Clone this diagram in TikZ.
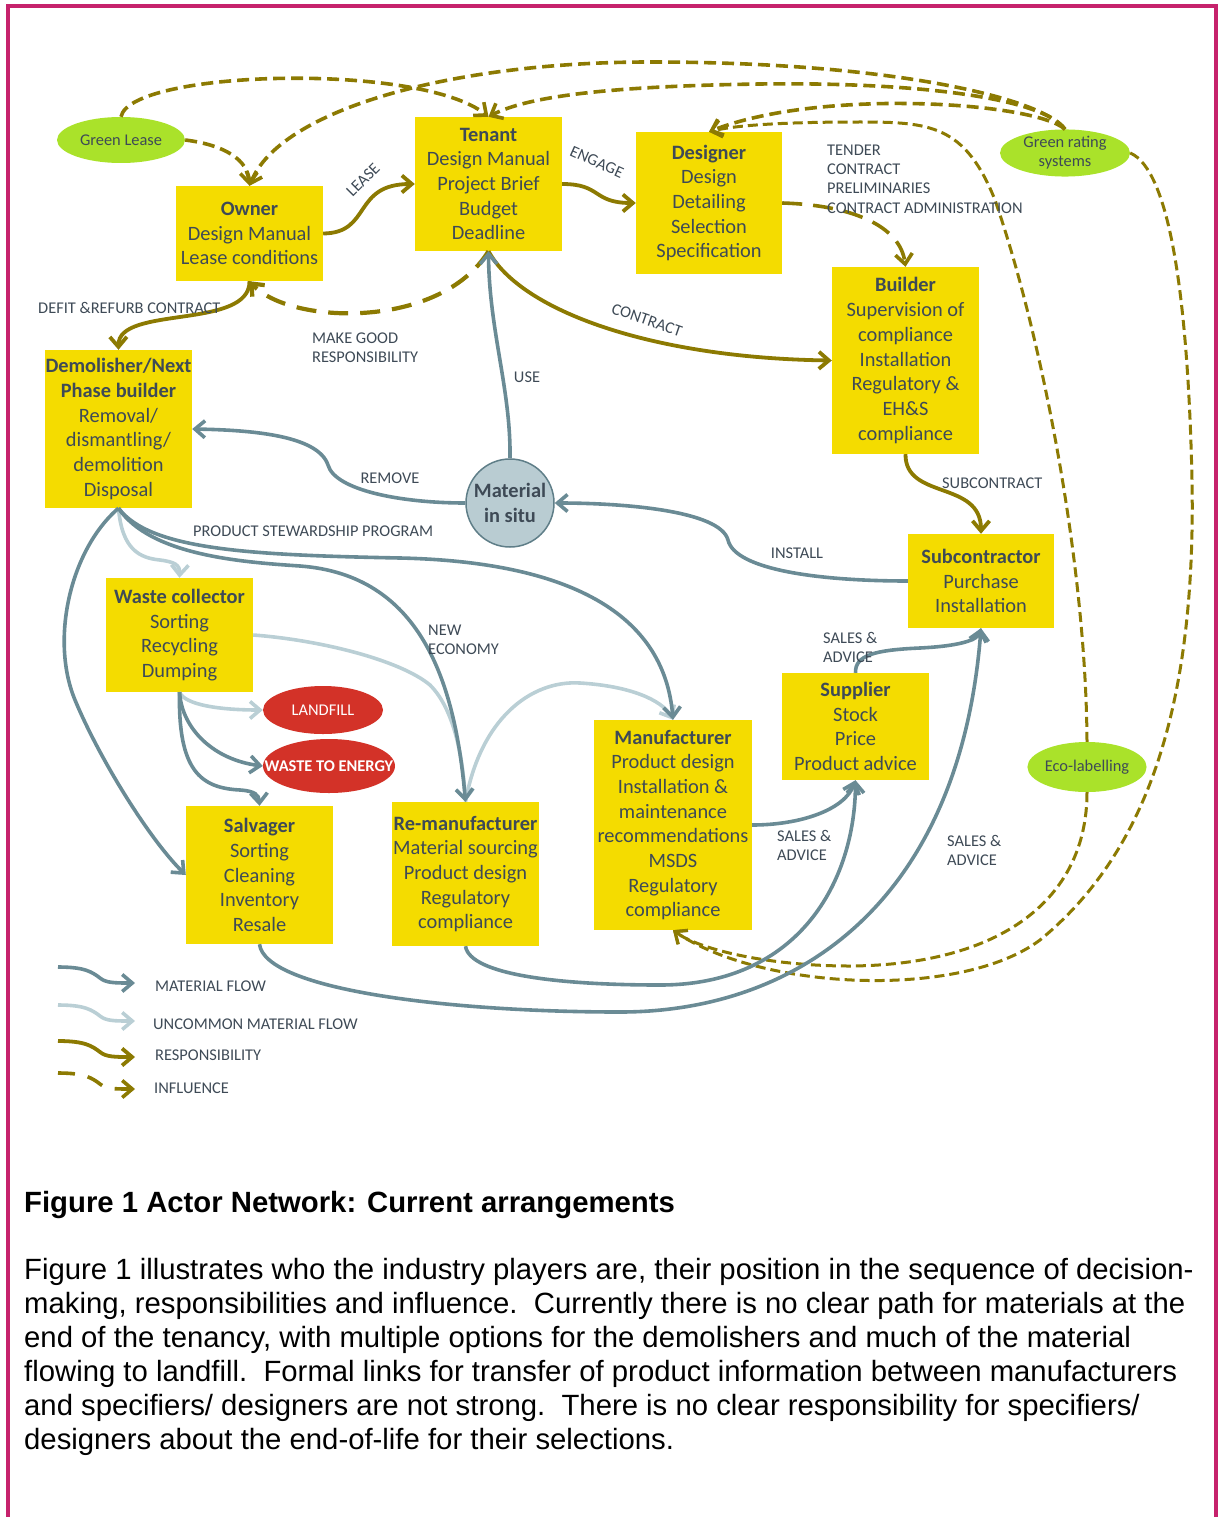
\documentclass[tikz,border=0pt]{standalone}
\usepackage{fontspec}
\setmainfont{Carlito}
\newfontfamily\capfont{Liberation Sans}
\usetikzlibrary{arrows.meta,shapes.geometric}

\definecolor{framecol}{HTML}{C6226C}
\definecolor{boxfill}{HTML}{F4DC00}
\definecolor{ink}{HTML}{3E4A56}
\definecolor{olive}{HTML}{8C7A02}
\definecolor{slate}{HTML}{6A8B95}
\definecolor{pale}{HTML}{BACFD5}
\definecolor{lime}{HTML}{AAE22A}
\definecolor{brick}{HTML}{D33228}
\definecolor{situfill}{HTML}{B9CCD2}
\definecolor{situline}{HTML}{5F7E88}

\newcommand\boxfont{\fontsize{20.4}{24.7}\selectfont}
\newcommand\tagfont{\fontsize{16.4}{19.3}\selectfont}
\newcommand\capsize{\fontsize{29.3}{34}\selectfont}

\tikzset{
  actor/.style={fill=boxfill, text=ink, font=\boxfont, align=center, inner sep=0pt},
  oval/.style={ellipse, fill=lime, text=ink, font=\tagfont, align=center, inner sep=0pt},
  sink/.style={ellipse, fill=brick, text=white, font=\tagfont, inner sep=0pt},
  tag/.style={text=ink, font=\tagfont, inner sep=0pt, align=left},
  barb/.style={-{Straight Barb[length=10pt,width=17pt]}},
  flow/.style={draw=slate, line width=3.6pt, barb},
  rareflow/.style={draw=pale, line width=3.6pt, barb},
  duty/.style={draw=olive, line width=3.8pt, barb},
  sway/.style={draw=olive, line width=3.6pt, dash pattern=on 12pt off 6pt, barb},
  swaythin/.style={draw=olive, line width=3pt, dash pattern=on 10pt off 5pt, barb},
  capline/.style={anchor=base west, inner sep=0pt, font=\capfont\capsize}
}

\begin{document}
\begin{tikzpicture}[x=1pt,y=-1pt]
\useasboundingbox (0,0) rectangle (1218,1517);
\draw[framecol, line width=4pt] (8,1530) -- (8,6) -- (1216,6) -- (1216,1530);

% actors
\node[actor, minimum width=147pt, minimum height=95pt] (owner) at (249.5,233.5)
  {\textbf{Owner}\\Design Manual\\Lease conditions};
\node[actor, minimum width=147pt, minimum height=134pt] (tenant) at (488.5,184)
  {\textbf{Tenant}\\Design Manual\\Project Brief\\Budget\\Deadline};
\node[actor, minimum width=146pt, minimum height=142pt] (designer) at (709,203)
  {\textbf{Designer}\\Design\\Detailing\\Selection\\Specification};
\node[actor, minimum width=147pt, minimum height=187pt] (builder) at (905.5,360.5)
  {\textbf{Builder}\\Supervision of\\compliance\\Installation\\Regulatory \&\\EH\&S\\compliance};
\node[actor, minimum width=147pt, minimum height=158pt] (demol) at (118.5,429)
  {\textbf{Demolisher/Next}\\\textbf{Phase builder}\\Removal/\\dismantling/\\demolition\\Disposal};
\node[actor, minimum width=146pt, minimum height=94pt] (subcon) at (981,581)
  {\textbf{Subcontractor}\\Purchase\\Installation};
\node[actor, minimum width=147pt, minimum height=114pt] (waste) at (179.5,635)
  {\textbf{Waste collector}\\Sorting\\Recycling\\Dumping};
\node[actor, minimum width=147pt, minimum height=107pt] (supp) at (855.5,726.5)
  {\textbf{Supplier}\\Stock\\Price\\Product advice};
\node[actor, minimum width=158pt, minimum height=210pt] (manuf) at (673,825)
  {\textbf{Manufacturer}\\Product design\\Installation \&\\maintenance\\recommendations\\MSDS\\Regulatory\\compliance};
\node[actor, minimum width=147pt, minimum height=138pt] (salv) at (259.5,875)
  {\textbf{Salvager}\\Sorting\\Cleaning\\Inventory\\Resale};
\node[actor, minimum width=147pt, minimum height=144pt] (reman) at (465.5,874)
  {\textbf{Re-manufacturer}\\Material sourcing\\Product design\\Regulatory\\compliance};

% ovals
\node[oval, minimum width=128pt, minimum height=46pt] (glease) at (121,140) {Green Lease};
\node[oval, minimum width=130pt, minimum height=46pt] (grating) at (1065,153) {Green rating\\systems};
\node[oval, minimum width=118pt, minimum height=50pt] (eco) at (1087,767) {Eco-labelling};
\node[sink, minimum width=120pt, minimum height=48pt] (landfill) at (323,710) {LANDFILL};
\node[sink, minimum width=132pt, minimum height=54pt] (wte) at (329,766) {\makebox[0pt]{\textbf{WASTE TO ENERGY}}};
\node[circle, fill=situfill, draw=situline, line width=1.5pt, minimum size=88pt, inner sep=0pt,
      text=ink, font=\boxfont\bfseries, align=center] (situ) at (510,503) {Material\\in situ};

% influence
\draw[sway] (glease.north) .. controls (130,70) and (420,62) .. (tenant.north);
\draw[sway] (glease.east) .. controls (225,145) and (248,160) .. (owner.north);
\draw[sway] (grating.north) .. controls (1045,100) and (900,62) .. (650,62)
  .. controls (450,62) and (280,110) .. (owner.north);
\draw[sway] (grating.north) .. controls (1040,95) and (900,82) .. (760,84)
  .. controls (620,86) and (530,95) .. (tenant.north);
\draw[sway] (grating.north) .. controls (1035,102) and (820,88) .. (designer.north);
\draw[sway, dash pattern=on 20pt off 11pt] (designer.east) .. controls (850,205) and (900,225) .. (builder.north);
\draw[sway, line width=4.2pt, dash pattern=on 20pt off 12pt] (tenant.south)
  .. controls (440,330) and (290,325) .. (owner.south);
\draw[swaythin] (eco.north) .. controls (1086,560) and (1040,330) .. (995,200)
  .. controls (965,125) and (930,122) .. (860,122)
  .. controls (800,122) and (740,124) .. (designer.north);
\draw[swaythin] (eco.south) .. controls (1087,900) and (1000,965) .. (850,966)
  .. controls (770,966) and (700,950) .. (manuf.south);
\draw[swaythin] (grating.east) .. controls (1170,170) and (1188,300) .. (1192,480)
  .. controls (1196,700) and (1150,850) .. (1040,940)
  .. controls (960,1000) and (760,990) .. (manuf.south);

% responsibility
\draw[duty] (owner.east) .. controls (372,233) and (352,184) .. (tenant.west);
\draw[duty] (tenant.east) .. controls (602,184) and (592,203) .. (designer.west);
\draw[duty] (tenant.south) .. controls (520,310) and (650,358) .. (builder.west);
\draw[duty] (builder.south) .. controls (905,500) and (981,480) .. (subcon.north);
\draw[duty] (owner.south) .. controls (250,330) and (118,305) .. (demol.north);

% uncommon material flow
\draw[rareflow] (demol.south) .. controls (122,550) and (140,558) .. (160,560)
  .. controls (175,562) and (180,565) .. (waste.north);
\draw[rareflow] (waste.east) .. controls (320,640) and (400,660) .. (430,685)
  .. controls (455,710) and (463,760) .. (reman.north);
\draw[rareflow] (reman.north) .. controls (480,720) and (530,680) .. (580,683)
  .. controls (630,686) and (662,700) .. (manuf.north);
\draw[rareflow] (waste.south) .. controls (185,705) and (220,710) .. (landfill.west);

% material flow
\draw[flow] (situ.north) .. controls (511,390) and (489,330) .. (tenant.south);
\draw[flow] (situ.west) .. controls (400,503) and (335,490) .. (328,465)
  .. controls (318,435) and (250,430) .. (demol.east);
\draw[flow] (subcon.west) .. controls (820,581) and (735,570) .. (728,540)
  .. controls (720,510) and (620,503) .. (situ.east);
\draw[flow] (demol.south) .. controls (70,550) and (50,640) .. (75,700)
  .. controls (100,760) and (150,840) .. (salv.west);
\draw[flow] (demol.south) .. controls (150,550) and (250,555) .. (400,558)
  .. controls (580,562) and (665,620) .. (manuf.north);
\draw[flow] (demol.south) .. controls (150,555) and (240,562) .. (300,566)
  .. controls (420,575) and (455,680) .. (reman.north);
\draw[flow] (waste.south) .. controls (182,730) and (215,760) .. (wte.west);
\draw[flow] (waste.south) .. controls (178,770) and (200,788) .. (240,790)
  .. controls (255,791) and (259,795) .. (salv.north);
\draw[flow] (salv.south) .. controls (265,990) and (450,1012) .. (620,1012)
  .. controls (800,1012) and (960,900) .. (subcon.south);
\draw[flow] (reman.south) .. controls (470,975) and (560,985) .. (660,985)
  .. controls (800,985) and (855,880) .. (supp.south);
\draw[flow] (manuf.east) .. controls (800,825) and (845,810) .. (supp.south);
\draw[flow] (supp.north) .. controls (855,655) and (875,650) .. (920,648)
  .. controls (960,646) and (978,640) .. (subcon.south);

% connector labels
\node[tag, rotate=45] (tLease) at (363,180) {LEASE};
\node[tag, rotate=-24] (tEngage) at (597,162) {ENGAGE};
\node[tag, anchor=west] (tTender) at (827,179) {TENDER\\CONTRACT\\PRELIMINARIES\\CONTRACT ADMINISTRATION};
\node[tag, anchor=west] (tDefit) at (38,308) {DEFIT \&REFURB CONTRACT};
\node[tag, anchor=west] (tMake) at (312,347.5) {MAKE GOOD\\RESPONSIBILITY};
\node[tag, rotate=-19] (tContract) at (647,320) {CONTRACT};
\node[tag] (tUse) at (527,377) {USE};
\node[tag] (tRemove) at (390,478) {REMOVE};
\node[tag, anchor=west] (tSub) at (942,483) {SUBCONTRACT};
\node[tag, anchor=west] (tPsp) at (193,531) {PRODUCT STEWARDSHIP PROGRAM};
\node[tag] (tInstall) at (797,553) {INSTALL};
\node[tag, anchor=west] (tNew) at (428,639.5) {NEW\\ECONOMY};
\node[tag, anchor=west] (tSalesA) at (823,647.5) {SALES \&\\ADVICE};
\node[tag, anchor=west] (tSalesB) at (777,845.5) {SALES \&\\ADVICE};
\node[tag, anchor=west] (tSalesC) at (947,850.5) {SALES \&\\ADVICE};

% legend
\coordinate (kA0) at (58,967);  \coordinate (kA1) at (135,983);
\coordinate (kB0) at (58,1005); \coordinate (kB1) at (135,1021);
\coordinate (kC0) at (58,1041); \coordinate (kC1) at (135,1057);
\coordinate (kD0) at (58,1073); \coordinate (kD1) at (135,1089);
\draw[flow] (kA0) .. controls (85,967) and (92,972) .. (100,978) .. controls (106,983) and (115,983) .. (kA1);
\draw[rareflow] (kB0) .. controls (85,1005) and (92,1010) .. (100,1016) .. controls (106,1021) and (115,1021) .. (kB1);
\draw[duty] (kC0) .. controls (85,1041) and (92,1046) .. (100,1052) .. controls (106,1057) and (115,1057) .. (kC1);
\draw[sway, dash pattern=on 17pt off 13pt] (kD0) .. controls (85,1073) and (92,1078) .. (100,1084) .. controls (106,1089) and (115,1089) .. (kD1);
\node[tag, anchor=west] (kAt) at (155,986) {MATERIAL FLOW};
\node[tag, anchor=west] (kBt) at (153,1024) {UNCOMMON MATERIAL FLOW};
\node[tag, anchor=west] (kCt) at (155,1055) {RESPONSIBILITY};
\node[tag, anchor=west] (kDt) at (154,1088) {INFLUENCE};

% caption
\node[capline, font=\capfont\capsize\bfseries] (capTitle) at (24,1212) {Figure 1 Actor Network: Current arrangements};
\node[capline] (capL1) at (24,1279) {Figure 1 illustrates who the industry players are, their position in the sequence of decision-};
\node[capline] (capL2) at (24,1313) {making, responsibilities and influence.\ \ Currently there is no clear path for materials at the};
\node[capline] (capL3) at (24,1347) {end of the tenancy, with multiple options for the demolishers and much of the material};
\node[capline] (capL4) at (24,1381) {flowing to landfill.\ \ Formal links for transfer of product information between manufacturers};
\node[capline] (capL5) at (24,1415) {and specifiers/ designers are not strong.\ \ There is no clear responsibility for specifiers/};
\node[capline] (capL6) at (24,1449) {designers about the end-of-life for their selections.};
\end{tikzpicture}
\end{document}
